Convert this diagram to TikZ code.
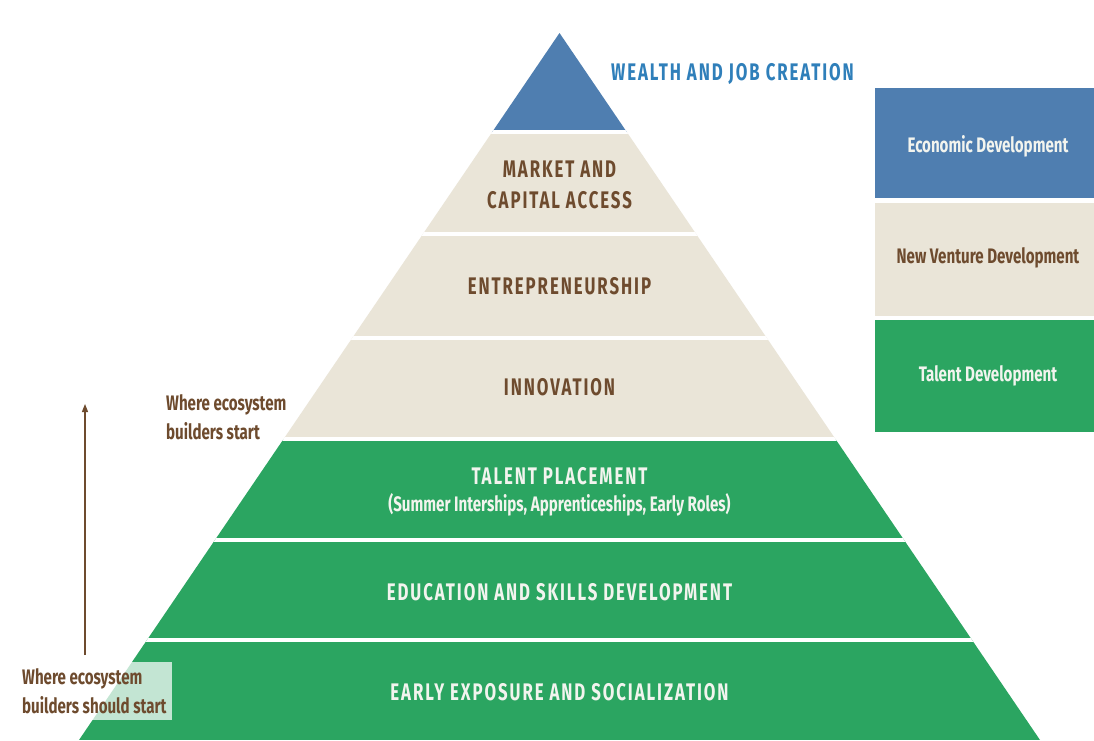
\documentclass[tikz,border=0pt]{standalone}
\usepackage{fontspec}
\usetikzlibrary{arrows.meta}
\newfontfamily\cond{Fira Sans}[FakeStretch=0.72]
\newfontfamily\condnote{Fira Sans}[FakeStretch=0.72]
\newfontfamily\condcaps{Fira Sans}[FakeStretch=0.70, LetterSpace=8]
\definecolor{pblue}{HTML}{4F7EB0}
\definecolor{pbeige}{HTML}{EAE5D8}
\definecolor{pgreen}{HTML}{2BA561}
\definecolor{pbrown}{HTML}{6E4B2E}
\definecolor{tblue}{HTML}{2F7FBA}
\definecolor{tgreen}{HTML}{F2F4EE}
\tikzset{
  tier/.style={font=\condcaps\bfseries\fontsize{24}{26}\selectfont, align=center, inner sep=0pt},
  tierbrown/.style={tier, text=pbrown},
  tierwhite/.style={tier, text=tgreen},
  legendtext/.style={font=\cond\bfseries\fontsize{21}{23}\selectfont, inner sep=0pt},
  note/.style={font=\condnote\bfseries\fontsize{21}{29}\selectfont, text=pbrown, align=left, inner sep=0pt},
  gap/.style={white, line width=4pt}
}
\begin{document}
\begin{tikzpicture}[x=1pt,y=-1pt]
\useasboundingbox (0,0) rectangle (1094,740);
\fill[white] (0,0) rectangle (1094,740);
% pyramid
\begin{scope}
\clip (559.5,33) -- (1040,740) -- (79,740) -- cycle;
\fill[pblue] (0,0) rectangle (1094,132);
\fill[pbeige] (0,132) rectangle (1094,438.5);
\fill[pgreen] (0,438.5) rectangle (1094,740);
\foreach \yy in {132,234,338,438.5,540,640} \draw[gap] (0,\yy) -- (1094,\yy);
\end{scope}
% legend
\fill[pblue] (875,88) rectangle (1094,198);
\fill[pbeige] (875,202.5) rectangle (1094,316);
\fill[pgreen] (875,320) rectangle (1094,432);
\node[legendtext, text=tgreen] (leco) at (988,146) {Economic Development};
\node[legendtext, text=pbrown] (lnew) at (988,258) {New Venture Development};
\node[legendtext, text=tgreen] (ltal) at (988,376) {Talent Development};
% labels
\node[tier, text=tblue, anchor=west] (wealth) at (611,74) {WEALTH AND JOB CREATION};
\node[tierbrown] (market) at (559.5,185) {MARKET AND\\[5pt]CAPITAL ACCESS};
\node[tierbrown] (entre) at (559.5,286) {ENTREPRENEURSHIP};
\node[tierbrown] (innov) at (559.5,387) {INNOVATION};
\node[tierwhite] (place) at (559.5,476) {TALENT PLACEMENT};
\node[legendtext, text=tgreen] (placesub) at (559.5,505) {(Summer Interships, Apprenticeships, Early Roles)};
\node[tierwhite] (edu) at (559.5,592) {EDUCATION AND SKILLS DEVELOPMENT};
\node[tierwhite] (early) at (559.5,692) {EARLY EXPOSURE AND SOCIALIZATION};
% notes
\fill[white, opacity=0.72] (0,662) rectangle (172,720);
\node[note, anchor=north west] (should) at (22,668) {Where ecosystem\\builders should start};
\node[note, anchor=north west] (start) at (166,394) {Where ecosystem\\builders start};
\coordinate (abot) at (85,655);
\coordinate (atop) at (85,404);
\draw[pbrown, line width=1.3pt, -{Triangle[length=8pt,width=6pt]}] (abot) -- (atop);
\end{tikzpicture}
\end{document}
